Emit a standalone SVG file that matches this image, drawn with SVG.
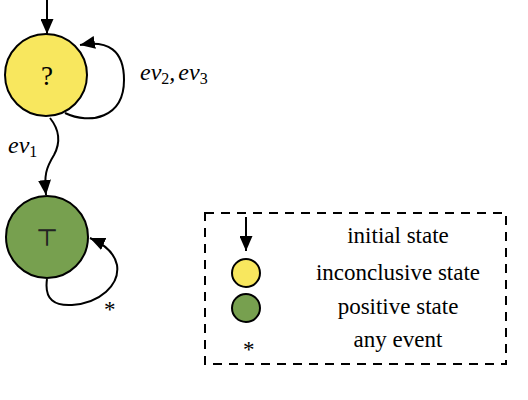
<svg xmlns="http://www.w3.org/2000/svg" width="528" height="400" viewBox="0 0 528 400">
<style>
.node{stroke:#000;stroke-width:2}
.yellow{fill:#f8e75e}
.green{fill:#77a04f}
.edge{fill:none;stroke:#000;stroke-width:2}
.t{font-family:"Liberation Serif","Times New Roman",serif;font-size:23px;fill:#000}
.q{font-size:27px}
.it{font-style:italic;font-size:24px}
.sub{font-size:16px;font-style:normal}
</style>
<defs>
<marker id="ah" viewBox="0 0 15 13" refX="15" refY="6.5" markerWidth="15" markerHeight="13" markerUnits="userSpaceOnUse" orient="auto">
<path d="M0,0 L15,6.5 L0,13 Z" fill="#000"/>
</marker>
</defs>
<g id="connectors">
<path class="edge" d="M47,0 L47,34" marker-end="url(#ah)"/>
<path class="edge" d="M65,113 C90,125 124,118 124,80 C124,50 108,40 80,45" marker-end="url(#ah)"/>
<path class="edge" d="M50,118 C58,128 62,140 54,155 C46,168 44,175 46,195" marker-end="url(#ah)"/>
<path class="edge" d="M47,279 C44,300 55,306 72,305 C100,303 120,285 117,265 C115,255 106,245 90,238" marker-end="url(#ah)"/>
</g>
<g id="state-inconclusive">
<circle class="node yellow" cx="46" cy="75" r="41"/>
<text class="t q" x="47" y="85" text-anchor="middle">?</text>
</g>
<g id="state-positive">
<circle class="node green" cx="47" cy="237" r="41"/>
<text x="47" y="246" text-anchor="middle" style="font-family:'DejaVu Serif','DejaVu Sans',serif;font-size:24px;fill:#222">⊤</text>
</g>
<g id="labels">
<text class="t it" x="140" y="80">ev<tspan class="sub" dy="4">2</tspan><tspan dy="-4">,</tspan><tspan dx="3">ev</tspan><tspan class="sub" dy="4">3</tspan></text>
<text class="t it" x="8" y="153">ev<tspan class="sub" dy="4">1</tspan></text>
<text class="t" x="104" y="317">*</text>
</g>
<g id="legend">
<rect x="205" y="213" width="301" height="151" fill="none" stroke="#000" stroke-width="2" stroke-dasharray="9,7"/>
<path class="edge" d="M246,217 L246,251" marker-end="url(#ah)"/>
<circle class="node yellow" cx="246" cy="273" r="14" stroke-width="1.5"/>
<circle class="node green" cx="246" cy="308" r="14" stroke-width="1.5"/>
<text class="t" x="243" y="357">*</text>
<text class="t" x="398" y="243" text-anchor="middle">initial state</text>
<text class="t" x="398" y="280" text-anchor="middle">inconclusive state</text>
<text class="t" x="398" y="314" text-anchor="middle">positive state</text>
<text class="t" x="398" y="347" text-anchor="middle">any event</text>
</g>
</svg>
